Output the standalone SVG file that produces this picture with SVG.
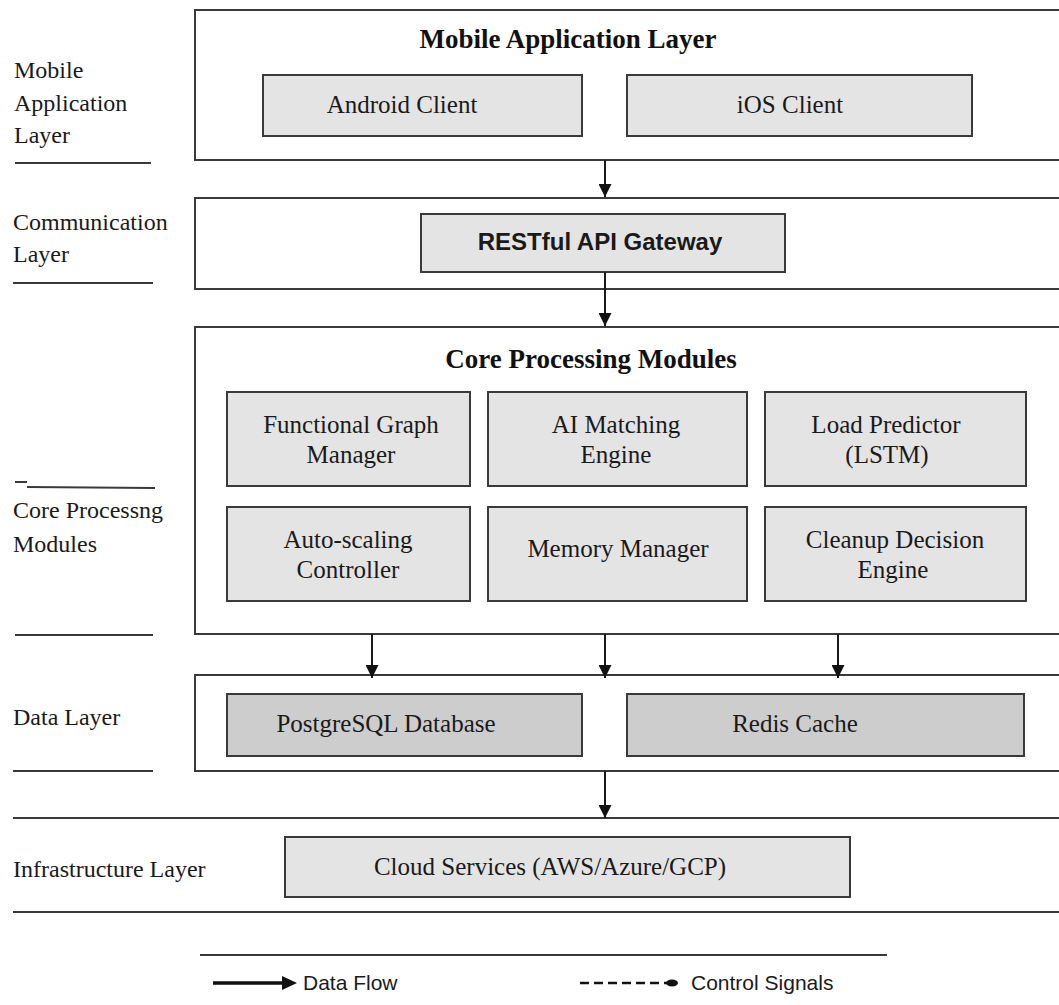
<svg xmlns="http://www.w3.org/2000/svg" width="1059" height="1005" viewBox="0 0 1059 1005">
<style>
.layer{fill:#ffffff;stroke:#3a3a3a;stroke-width:2}
.box{fill:#e4e4e4;stroke:#3a3a3a;stroke-width:2}
.dbox{fill:#cdcdcd;stroke:#3a3a3a;stroke-width:2}
.sep{stroke:#3a3a3a;stroke-width:2;fill:none}
.lbl{font-family:"Liberation Serif","Times New Roman",serif;font-size:24px;fill:#1a1a1a}
.t{font-family:"Liberation Serif","Times New Roman",serif;font-size:25px;fill:#1a1a1a;text-anchor:middle}
.title{font-family:"Liberation Serif","Times New Roman",serif;font-size:27px;font-weight:bold;fill:#111;text-anchor:middle}
.sans{font-family:"Liberation Sans",Arial,sans-serif;fill:#1a1a1a}
.conn{stroke:#1a1a1a;stroke-width:2;fill:none}
</style>
<defs>
<marker id="ah" markerWidth="14" markerHeight="13" refX="13" refY="6.5" orient="auto" markerUnits="userSpaceOnUse">
<path d="M0,0 L13,6.5 L0,13 Z" fill="#111"/>
</marker>
</defs>
<rect width="1059" height="1005" fill="#ffffff"/>

<g id="side-labels">
<text class="lbl" x="14" y="78">Mobile</text>
<text class="lbl" x="14" y="111">Application</text>
<text class="lbl" x="14" y="143">Layer</text>
<line class="sep" x1="15" y1="163" x2="151" y2="163"/>
<text class="lbl" x="13" y="230">Communication</text>
<text class="lbl" x="13" y="262">Layer</text>
<line class="sep" x1="13" y1="283" x2="153" y2="283"/>
<line class="sep" x1="15" y1="482" x2="27" y2="482"/>
<line class="sep" x1="27" y1="487" x2="155" y2="488"/>
<text class="lbl" x="13" y="518">Core Processng</text>
<text class="lbl" x="13" y="552">Modules</text>
<line class="sep" x1="15" y1="635" x2="153" y2="635"/>
<text class="lbl" x="13" y="725">Data Layer</text>
<line class="sep" x1="13" y1="771" x2="153" y2="771"/>
<text class="lbl" x="13" y="877">Infrastructure Layer</text>
</g>

<g id="mobile-layer">
<rect class="layer" x="195" y="10" width="870" height="150"/>
<text class="title" x="568" y="48">Mobile Application Layer</text>
</g>
<g id="android-client">
<rect class="box" x="263" y="75" width="319" height="61"/>
<text class="t" x="402" y="113">Android Client</text>
</g>
<g id="ios-client">
<rect class="box" x="627" y="75" width="345" height="61"/>
<text class="t" x="790" y="113">iOS Client</text>
</g>

<g id="communication-layer">
<rect class="layer" x="195" y="198" width="870" height="91"/>
</g>
<g id="restful-api-gateway">
<rect class="box" x="421" y="214" width="364" height="58"/>
<text class="sans" x="600" y="250" font-size="24" font-weight="bold" text-anchor="middle">RESTful API Gateway</text>
</g>

<g id="core-layer">
<rect class="layer" x="195" y="327" width="870" height="307"/>
<text class="title" x="591" y="368">Core Processing Modules</text>
</g>
<g id="functional-graph-manager">
<rect class="box" x="227" y="392" width="243" height="94"/>
<text class="t" x="351" y="433">Functional Graph</text>
<text class="t" x="351" y="463">Manager</text>
</g>
<g id="ai-matching-engine">
<rect class="box" x="488" y="392" width="259" height="94"/>
<text class="t" x="616" y="433">AI Matching</text>
<text class="t" x="616" y="463">Engine</text>
</g>
<g id="load-predictor">
<rect class="box" x="765" y="392" width="261" height="94"/>
<text class="t" x="886" y="433">Load Predictor</text>
<text class="t" x="887" y="463">(LSTM)</text>
</g>
<g id="auto-scaling-controller">
<rect class="box" x="227" y="507" width="243" height="94"/>
<text class="t" x="348" y="548">Auto-scaling</text>
<text class="t" x="348" y="578">Controller</text>
</g>
<g id="memory-manager">
<rect class="box" x="488" y="507" width="259" height="94"/>
<text class="t" x="618" y="557">Memory Manager</text>
</g>
<g id="cleanup-decision-engine">
<rect class="box" x="765" y="507" width="261" height="94"/>
<text class="t" x="895" y="548">Cleanup Decision</text>
<text class="t" x="893" y="578">Engine</text>
</g>

<g id="data-layer">
<rect class="layer" x="195" y="675" width="870" height="96"/>
</g>
<g id="postgresql-database">
<rect class="dbox" x="227" y="694" width="355" height="62"/>
<text class="t" x="386" y="732">PostgreSQL Database</text>
</g>
<g id="redis-cache">
<rect class="dbox" x="627" y="694" width="397" height="62"/>
<text class="t" x="795" y="732">Redis Cache</text>
</g>

<g id="infrastructure-layer">
<line class="sep" x1="13" y1="818" x2="1059" y2="818"/>
<line class="sep" x1="13" y1="912" x2="1059" y2="912"/>
</g>
<g id="cloud-services">
<rect class="box" x="285" y="837" width="565" height="60"/>
<text class="t" x="550" y="875">Cloud Services (AWS/Azure/GCP)</text>
</g>

<g id="connectors">
<line class="conn" x1="605" y1="160" x2="605" y2="197" marker-end="url(#ah)"/>
<line class="conn" x1="605" y1="272" x2="605" y2="326" marker-end="url(#ah)"/>
<line class="conn" x1="372" y1="634" x2="372" y2="678" marker-end="url(#ah)"/>
<line class="conn" x1="605" y1="634" x2="605" y2="678" marker-end="url(#ah)"/>
<line class="conn" x1="838" y1="634" x2="838" y2="678" marker-end="url(#ah)"/>
<line class="conn" x1="605" y1="771" x2="605" y2="818" marker-end="url(#ah)"/>
</g>

<g id="legend">
<line class="sep" x1="200" y1="955" x2="887" y2="955" stroke-width="1.5"/>
<line x1="213" y1="983" x2="284" y2="983" stroke="#111" stroke-width="3.5"/>
<path d="M282,976 L297,983 L282,990 Z" fill="#111"/>
<text class="sans" x="303" y="990" font-size="21">Data Flow</text>
<line x1="580" y1="983" x2="667" y2="983" stroke="#111" stroke-width="2.5" stroke-dasharray="9,5"/>
<ellipse cx="672" cy="983" rx="6" ry="3.5" fill="#111"/>
<text class="sans" x="691" y="990" font-size="21">Control Signals</text>
</g>
</svg>
